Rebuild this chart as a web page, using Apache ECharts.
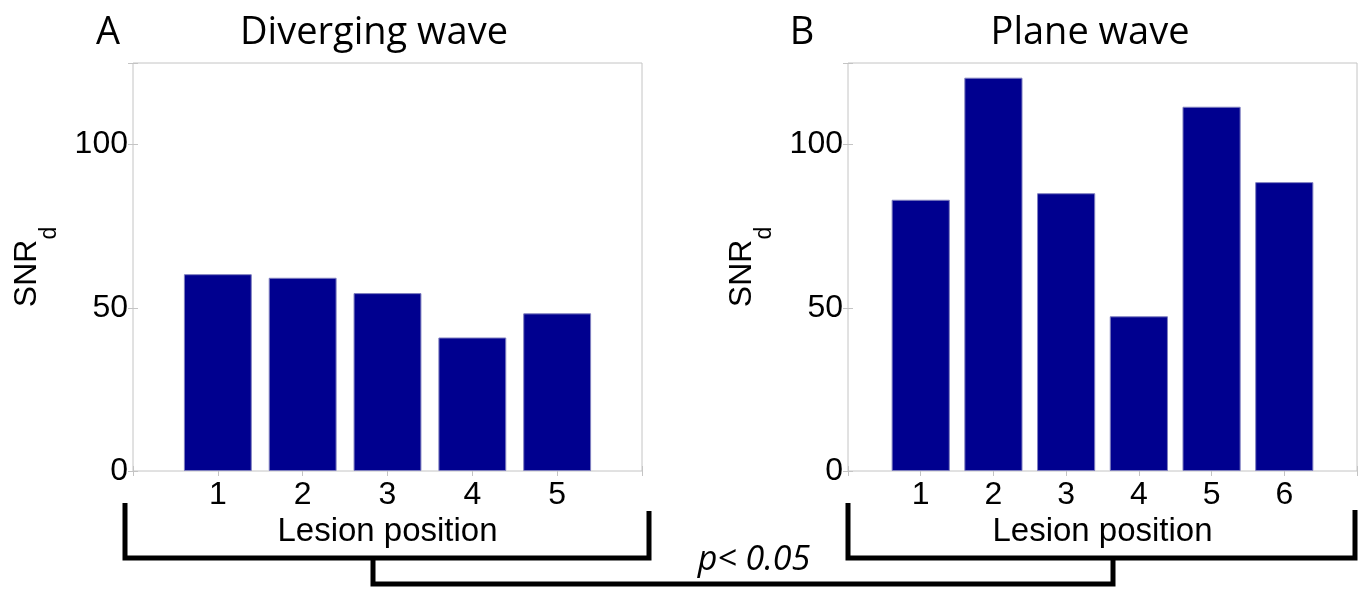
<!DOCTYPE html>
<html>
<head>
<meta charset="utf-8">
<script src="https://cdn.jsdelivr.net/npm/echarts@6/dist/echarts.min.js"></script>
<style>
  html, body { margin: 0; padding: 0; background: #fff; }
  #chart { width: 1363px; height: 589px; }
</style>
</head>
<body>
<div id="chart"></div>
<script>
// 数据
var positionsA = [1, 2, 3, 4, 5];
var snrDiverging = [60.3, 59.2, 54.5, 40.9, 48.3];
var positionsB = [1, 2, 3, 4, 5, 6];
var snrPlane = [83.1, 120.5, 85.1, 47.4, 111.6, 88.5];
var yTicks = [0, 50, 100];

var barColor = "#00008f";
var boxColor = "#c4c4c4";
var numFont = "Liberation Sans";

var myChart = echarts.init(document.getElementById("chart"));

function pairs(xs, ys) {
  return xs.map(function (x, i) {
    return [x, ys[i]];
  });
}

// x轴：0 ~ n+1，只在1..n显示标签
function xAxes(gridIndex, n) {
  var base = {
    type: "value",
    gridIndex: gridIndex,
    min: 0,
    max: n + 1,
    interval: 1,
    splitLine: { show: false },
    axisLine: { show: false },
    axisTick: { inside: true, length: 5, lineStyle: { color: boxColor } },
  };
  return [
    Object.assign({}, base, {
      position: "bottom",
      name: "Lesion position",
      nameLocation: "middle",
      nameGap: 43,
      nameTextStyle: { color: "#000", fontFamily: numFont, fontSize: 33 },
      axisLabel: {
        color: "#000",
        fontFamily: numFont,
        fontSize: 32,
        margin: 8,
        formatter: function (v) {
          return v >= 1 && v <= n ? String(v) : "";
        },
      },
    }),
    Object.assign({}, base, { position: "top", axisLabel: { show: false } }),
  ];
}

function yAxes(gridIndex, gap) {
  var base = {
    type: "value",
    gridIndex: gridIndex,
    min: 0,
    max: 125,
    interval: 50,
    splitLine: { show: false },
    axisLine: { show: false },
    axisTick: { inside: true, length: 5, lineStyle: { color: boxColor } },
  };
  return [
    Object.assign({}, base, {
      position: "left",
      name: "{a|SNR}{b|d}",
      nameLocation: "middle",
      nameRotate: 90,
      nameGap: gap,
      nameTextStyle: {
        rich: {
          // 下标 d：用更大的行高把它往下压
          a: { fontFamily: numFont, fontSize: 32, lineHeight: 32, verticalAlign: "top", color: "#000" },
          b: { fontFamily: numFont, fontSize: 23, lineHeight: 78, verticalAlign: "middle", color: "#000" },
        },
      },
      axisLabel: {
        color: "#000",
        fontFamily: numFont,
        fontSize: 32,
        margin: 5,
        formatter: function (v) {
          return yTicks.indexOf(v) >= 0 ? String(v) : "";
        },
      },
    }),
    Object.assign({}, base, { position: "right", axisLabel: { show: false } }),
  ];
}

var option = {
  animation: false,
  backgroundColor: "#fff",
  title: [
    { text: "A", left: 108, top: 14 },
    { text: "Diverging wave", left: 374, top: 14 },
    { text: "B", left: 802, top: 14 },
    { text: "Plane wave", left: 1090, top: 14 },
  ].map(function (t) {
    t.textAlign = "center";
    t.padding = 0;
    t.textStyle = { color: "#000", fontFamily: "Open Sans", fontSize: 38, fontWeight: "normal" };
    return t;
  }),
  grid: [
    { left: 133, top: 63, width: 509, height: 408, show: true, borderColor: boxColor, borderWidth: 1 },
    { left: 848, top: 63, width: 509, height: 408, show: true, borderColor: boxColor, borderWidth: 1 },
  ],
  xAxis: xAxes(0, positionsA.length).concat(xAxes(1, positionsB.length)),
  yAxis: yAxes(0, 44).concat(yAxes(1, 44)),
  series: [
    {
      type: "bar",
      xAxisIndex: 0,
      yAxisIndex: 0,
      data: pairs(positionsA, snrDiverging),
      barWidth: "80%",
      itemStyle: { color: barColor, borderColor: "#7f7fbf", borderWidth: 1 },
    },
    {
      type: "bar",
      xAxisIndex: 2,
      yAxisIndex: 2,
      data: pairs(positionsB, snrPlane),
      barWidth: "80%",
      itemStyle: { color: barColor, borderColor: "#7f7fbf", borderWidth: 1 },
    },
  ],
  // 显著性括号
  graphic: [
    {
      type: "polyline",
      shape: { points: [[125, 503], [125, 558], [649, 558], [649, 511]] },
      style: { stroke: "#000", lineWidth: 5, fill: null, lineJoin: "miter" },
    },
    {
      type: "polyline",
      shape: { points: [[848, 503], [848, 558], [1355, 558], [1355, 510]] },
      style: { stroke: "#000", lineWidth: 5, fill: null, lineJoin: "miter" },
    },
    {
      type: "polyline",
      shape: { points: [[373, 560], [373, 584], [1113, 584], [1113, 560]] },
      style: { stroke: "#000", lineWidth: 5, fill: null, lineJoin: "miter" },
    },
    {
      type: "text",
      x: 754,
      y: 560,
      style: {
        text: "p< 0.05",
        fill: "#000",
        font: "italic 34px 'Open Sans'",
        textAlign: "center",
        textVerticalAlign: "middle",
      },
    },
  ],
};

option && myChart.setOption(option);
window.addEventListener("resize", function () {
  myChart.resize();
});
</script>
</body>
</html>
